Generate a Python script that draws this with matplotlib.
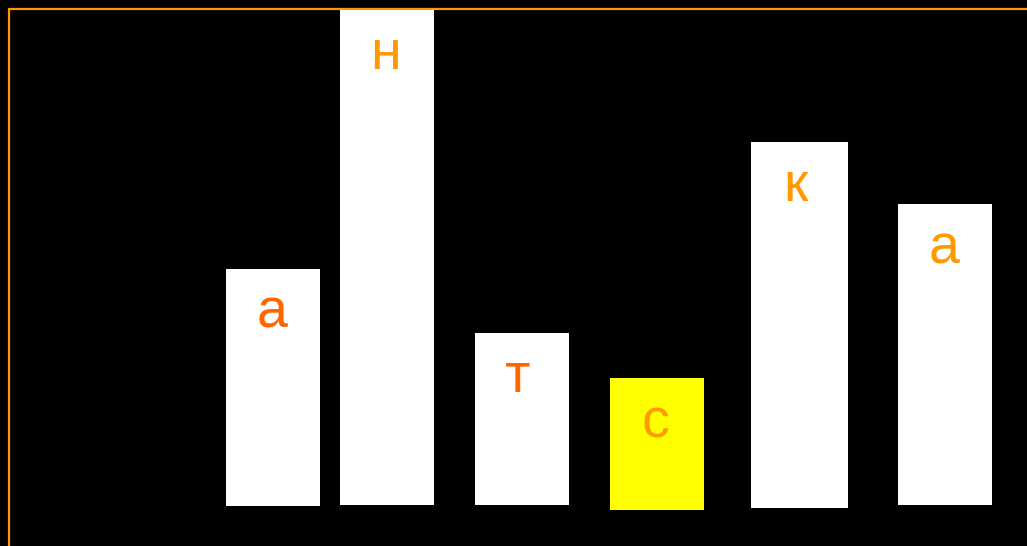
import matplotlib
matplotlib.use("Agg")
import matplotlib.pyplot as plt
from matplotlib.patches import Rectangle

# letters on the bars, left to right
letters = ["а", "н", "т", "с", "к", "а"]
# bar heights and bases (same units as the canvas, 0 = bottom edge)
heights = [237, 495, 172, 132, 366, 301]
bases = [40, 41, 41, 36, 38, 41]
centers = [273, 387, 522, 657, 799.5, 945]
widths = [94, 94, 94, 94, 97, 94]
bar_colors = ["white", "white", "white", "#FFFF00", "white", "white"]
letter_colors = ["#FF6600", "#FF9900", "#FF6600", "#FF9900", "#FF9900", "#FF9900"]
letter_dx = [-1, -1, -4, -1, -4, -1]

W, H = 1027, 546

fig = plt.figure(figsize=(W / 100, H / 100), dpi=100, facecolor="black")
ax = fig.add_axes([0, 0, 1, 1])
ax.set_facecolor("black")
ax.set_xlim(0, W)
ax.set_ylim(0, H)
ax.axis("off")

# orange frame, runs off the right and bottom edges
ax.add_patch(Rectangle((9, -20), W + 50, H - 9 + 20, fill=False,
                       edgecolor="#FF9900", linewidth=1.6, zorder=1))

ax.bar(centers, heights, width=widths, bottom=bases, color=bar_colors,
       edgecolor="none", zorder=2)

for x, b, h, txt, c, dx in zip(centers, bases, heights, letters, letter_colors, letter_dx):
    ax.text(x + dx, b + h - 39, txt, color=c, fontsize=40,
            family=["Liberation Sans", "DejaVu Sans"],
            ha="center", va="center_baseline", zorder=3)

fig.savefig("out.png", dpi=100, facecolor="black")
